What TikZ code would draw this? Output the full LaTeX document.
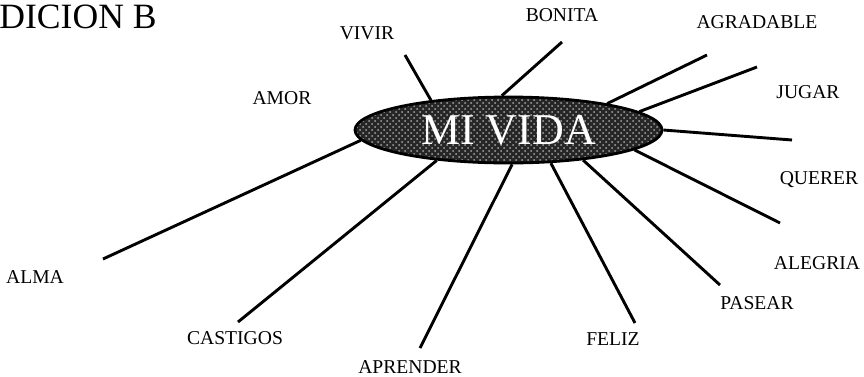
\documentclass[tikz,border=0pt]{standalone}
\usepackage{fontspec}
\setmainfont{Liberation Serif}
\usetikzlibrary{shapes.geometric,patterns}
\tikzset{
    ray/.style={line width=1.45pt},
    word/.style={inner sep=0pt, font=\fontsize{9.8}{10}\selectfont}
}
\begin{document}
\begin{tikzpicture}[x=0.5pt,y=-0.5pt]
    \useasboundingbox (0,0) rectangle (864,376);
    \node[anchor=base west, inner sep=0pt, font=\fontsize{17.8}{18}\selectfont] (title) at (-1,28) {DICION B};
    \node[ellipse, draw, line width=1.4pt, preaction={fill=black!85}, pattern=crosshatch dots, pattern color=black!35, text=white, minimum width=153.5pt, minimum height=33pt, inner sep=0pt, font=\fontsize{22}{22}\selectfont] (vida) at (508.5,130) {MI VIDA};
    \node[word] (vivir) at (367,33) {VIVIR};
    \node[word] (amor) at (282,98) {AMOR};
    \node[word] (bonita) at (562,15) {BONITA};
    \node[word] (agradable) at (757,22) {AGRADABLE};
    \node[word] (jugar) at (808,92) {JUGAR};
    \node[word] (querer) at (819,180) {QUERER};
    \node[word] (alegria) at (817,263) {ALEGRIA};
    \node[word] (pasear) at (757,303) {PASEAR};
    \node[word] (feliz) at (613,339) {FELIZ};
    \node[word] (aprender) at (410,367) {APRENDER};
    \node[word] (castigos) at (235,338) {CASTIGOS};
    \node[word] (alma) at (35,277) {ALMA};
    % free ends of the rays
    \coordinate (e1) at (405,55);
    \coordinate (e2) at (562,42);
    \coordinate (e3) at (707,55);
    \coordinate (e4) at (757,67);
    \coordinate (e5) at (792,140);
    \coordinate (e6) at (780,223);
    \coordinate (e7) at (720,285);
    \coordinate (e8) at (635,323);
    \coordinate (e9) at (420,348);
    \coordinate (e10) at (238,322);
    \coordinate (e11) at (103,259);
    \draw[ray] (vida.159.6) -- (e1);
    \draw[ray] (vida.101) -- (e2);
    \draw[ray] (vida.15.4) -- (e3);
    \draw[ray] (vida.8.1) -- (e4);
    \draw[ray] (vida.0.7) -- (e5);
    \draw[ray] (vida.-9) -- (e6);
    \draw[ray] (vida.-22.8) -- (e7);
    \draw[ray] (vida.-38.8) -- (e8);
    \draw[ray] (vida.-84.6) -- (e9);
    \draw[ray] (vida.-157.2) -- (e10);
    \draw[ray] (vida.184.2) -- (e11);
\end{tikzpicture}
\end{document}
